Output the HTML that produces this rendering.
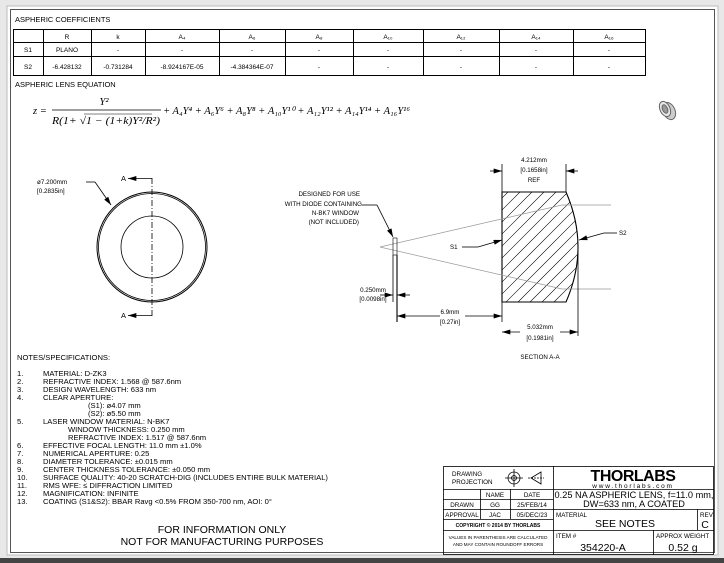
<!DOCTYPE html>
<html><head><meta charset="utf-8"><style>
html,body{margin:0;padding:0;background:#e6e6e6;}
svg{display:block;font-family:"Liberation Sans",sans-serif;}
</style></head><body>
<svg width="724" height="563" viewBox="0 0 724 563" xmlns="http://www.w3.org/2000/svg">
<defs>
<marker id="ar" viewBox="0 0 10 6" refX="10" refY="3" markerWidth="9" markerHeight="5" orient="auto-start-reverse" markerUnits="userSpaceOnUse"><path d="M0,0L10,3L0,6z" fill="#000"/></marker>
<clipPath id="lens"><path d="M502,192 L566,192 Q590,247 566,302 L502,302 Z"/></clipPath>
</defs>
<rect x="0" y="0" width="724" height="563" fill="#e8e8e8"/>
<rect x="7" y="6" width="711" height="549" fill="#fff" stroke="#bbb"/>
<rect x="10.5" y="9.5" width="704" height="543" fill="none" stroke="#555" stroke-width="1"/>
<rect x="0" y="558" width="724" height="5" fill="#444"/>

<text x="15" y="22" font-size="7.5">ASPHERIC COEFFICIENTS</text>
<g stroke="#000" stroke-width="1" fill="none">
<rect x="13.5" y="29.5" width="632" height="46"/>
<line x1="13" y1="42.5" x2="646" y2="42.5"/><line x1="13" y1="56.5" x2="646" y2="56.5"/>
<line x1="43.5" y1="29" x2="43.5" y2="76"/><line x1="91.5" y1="29" x2="91.5" y2="76"/>
<line x1="145.5" y1="29" x2="145.5" y2="76"/><line x1="219.5" y1="29" x2="219.5" y2="76"/>
<line x1="285.5" y1="29" x2="285.5" y2="76"/><line x1="353.5" y1="29" x2="353.5" y2="76"/>
<line x1="423.5" y1="29" x2="423.5" y2="76"/><line x1="499.5" y1="29" x2="499.5" y2="76"/>
<line x1="573.5" y1="29" x2="573.5" y2="76"/>
</g>
<g font-size="6.5" text-anchor="middle">
<text x="67" y="39">R</text><text x="118" y="39">k</text>
<text x="182" y="39">A₄</text><text x="252" y="39">A₆</text><text x="319" y="39">A₈</text>
<text x="388" y="39">A₁₀</text><text x="461" y="39">A₁₂</text><text x="536" y="39">A₁₄</text><text x="609" y="39">A₁₆</text>
<text x="28" y="52">S1</text><text x="67" y="52">PLANO</text>
<text x="118" y="52">-</text><text x="182" y="52">-</text><text x="252" y="52">-</text><text x="319" y="52">-</text><text x="388" y="52">-</text><text x="461" y="52">-</text><text x="536" y="52">-</text><text x="609" y="52">-</text>
<text x="28" y="69">S2</text><text x="67" y="69">-6.428132</text><text x="118" y="69">-0.731284</text>
<text x="182" y="69">-8.924167E-05</text><text x="252" y="69">-4.384364E-07</text>
<text x="319" y="69">-</text><text x="388" y="69">-</text><text x="461" y="69">-</text><text x="536" y="69">-</text><text x="609" y="69">-</text>
</g>
<text x="15" y="87" font-size="7.5">ASPHERIC LENS EQUATION</text>
<g font-family="'Liberation Serif',serif" font-size="10.5" font-style="italic">
<text x="33" y="114">z =</text>
<text x="104" y="105" text-anchor="middle">Y²</text>
<line x1="52" y1="110" x2="161" y2="110" stroke="#000" stroke-width="0.7"/>
<text x="52" y="124" textLength="108" lengthAdjust="spacingAndGlyphs">R(1+ √1 − (1+k)Y²/R²)</text>
<line x1="84" y1="114" x2="152" y2="114" stroke="#000" stroke-width="0.5"/>
<text x="163" y="114" textLength="247" lengthAdjust="spacingAndGlyphs">+ A₄Y⁴ + A₆Y⁶ + A₈Y⁸ + A₁₀Y¹⁰ + A₁₂Y¹² + A₁₄Y¹⁴ + A₁₆Y¹⁶</text>
</g>
<g stroke="#666" fill="#ccc" stroke-width="1">
<ellipse cx="669" cy="111" rx="6" ry="9" transform="rotate(-25 669 111)"/>
<ellipse cx="665" cy="109" rx="5" ry="8" fill="#e6e6e6" transform="rotate(-25 665 109)"/>
<ellipse cx="665" cy="109" rx="2.5" ry="4.5" fill="#999" transform="rotate(-25 665 109)"/>
</g>

<g fill="none" stroke="#000">
<circle cx="152" cy="247" r="55" stroke-width="1"/>
<circle cx="152" cy="247" r="53.5" stroke-width="0.8"/>
<circle cx="152" cy="247" r="31" stroke-width="0.8"/>
<line x1="152" y1="178" x2="152" y2="316" stroke-dasharray="6,2,1,2" stroke-width="0.8"/>
<line x1="152" y1="178.5" x2="128" y2="178.5" marker-end="url(#ar)" stroke-width="0.8"/>
<line x1="152" y1="315.5" x2="128" y2="315.5" marker-end="url(#ar)" stroke-width="0.8"/>
<polyline points="86,182 95,182" stroke-width="0.8"/>
</g>
<line x1="95" y1="182" x2="111" y2="205" stroke="#000" stroke-width="0.8" marker-end="url(#ar)"/>
<text x="121" y="181" font-size="7.5">A</text><text x="121" y="318" font-size="7.5">A</text>
<text x="37" y="184" font-size="6.3">ø7.200mm</text>
<text x="37" y="193" font-size="6.3">[0.2835in]</text>

<g clip-path="url(#lens)" stroke="#000" stroke-width="0.6">
<path d="M440,320 L580,180 M452,320 L592,180 M464,320 L604,180 M476,320 L616,180 M488,320 L628,180 M500,320 L640,180 M512,320 L652,180 M524,320 L664,180 M536,320 L676,180 M548,320 L688,180 M560,320 L700,180 M428,320 L568,180 M416,320 L556,180 M404,320 L544,180 M392,320 L532,180 M380,320 L520,180"/>
</g>
<path d="M502,192 L566,192 Q590,247 566,302 L502,302 Z" fill="none" stroke="#000" stroke-width="1.1"/>
<g stroke="#999" stroke-width="0.7" fill="none">
<polyline points="380,247 562,205 611,205"/>
<polyline points="380,247 562,289 611,289"/>
</g>
<rect x="393" y="238" width="4" height="17" fill="none" stroke="#000" stroke-width="0.6"/>
<g stroke="#000" stroke-width="0.8" fill="none">
<line x1="393" y1="255" x2="393" y2="302"/>
<line x1="397" y1="255" x2="397" y2="322" stroke-width="1.1"/>
<line x1="502" y1="302" x2="502" y2="322"/>
<line x1="578" y1="250" x2="578" y2="336"/>
<line x1="502" y1="192" x2="502" y2="164"/>
<line x1="566" y1="192" x2="566" y2="164"/>
<line x1="380" y1="295" x2="393" y2="295" marker-end="url(#ar)"/>
<line x1="410" y1="295" x2="397" y2="295" marker-end="url(#ar)"/>
<line x1="440" y1="316" x2="397" y2="316" marker-end="url(#ar)"/>
<line x1="465" y1="316" x2="502" y2="316" marker-end="url(#ar)"/>
<line x1="520" y1="332" x2="502" y2="332" marker-end="url(#ar)"/>
<line x1="560" y1="332" x2="578" y2="332" marker-end="url(#ar)"/>
<line x1="490" y1="171" x2="502" y2="171" marker-end="url(#ar)"/>
<line x1="578" y1="171" x2="566" y2="171" marker-end="url(#ar)"/>
<polyline points="362,205 377,205"/>
<line x1="377" y1="205" x2="393" y2="237" marker-end="url(#ar)"/>
<polyline points="462,247 478,247"/>
<line x1="478" y1="247" x2="502" y2="240" marker-end="url(#ar)"/>
<polyline points="617,233 604,233"/>
<line x1="604" y1="233" x2="579" y2="240" marker-end="url(#ar)"/>
</g>
<g font-size="6.2">
<text x="360" y="196" text-anchor="end">DESIGNED FOR USE</text>
<text x="362" y="206" text-anchor="end">WITH DIODE CONTAINING</text>
<text x="359" y="215" text-anchor="end">N-BK7 WINDOW</text>
<text x="359" y="224" text-anchor="end">(NOT INCLUDED)</text>
<text x="450" y="249">S1</text>
<text x="619" y="235">S2</text>
<text x="373" y="292" text-anchor="middle">0.250mm</text>
<text x="373" y="301" text-anchor="middle">[0.0098in]</text>
<text x="450" y="314" text-anchor="middle">6.9mm</text>
<text x="450" y="324" text-anchor="middle">[0.27in]</text>
<text x="540" y="329" text-anchor="middle">5.032mm</text>
<text x="540" y="340" text-anchor="middle">[0.1981in]</text>
<text x="534" y="162" text-anchor="middle">4.212mm</text>
<text x="534" y="172" text-anchor="middle">[0.1658in]</text>
<text x="534" y="182" text-anchor="middle">REF</text>
<text x="540" y="359" text-anchor="middle">SECTION A-A</text>
</g>

<g font-size="7.6">
<text x="17" y="360">NOTES/SPECIFICATIONS:</text>
<text x="17" y="376">1.</text><text x="43" y="376">MATERIAL: D-ZK3</text>
<text x="17" y="384">2.</text><text x="43" y="384">REFRACTIVE INDEX: 1.568 @ 587.6nm</text>
<text x="17" y="392">3.</text><text x="43" y="392">DESIGN WAVELENGTH: 633 nm</text>
<text x="17" y="400">4.</text><text x="43" y="400">CLEAR APERTURE:</text>
<text x="88" y="408">(S1): ø4.07 mm</text>
<text x="88" y="416">(S2): ø5.50 mm</text>
<text x="17" y="424">5.</text><text x="43" y="424">LASER WINDOW MATERIAL: N-BK7</text>
<text x="68" y="432">WINDOW THICKNESS: 0.250 mm</text>
<text x="68" y="440">REFRACTIVE INDEX: 1.517 @ 587.6nm</text>
<text x="17" y="448">6.</text><text x="43" y="448">EFFECTIVE FOCAL LENGTH: 11.0 mm ±1.0%</text>
<text x="17" y="456">7.</text><text x="43" y="456">NUMERICAL APERTURE: 0.25</text>
<text x="17" y="464">8.</text><text x="43" y="464">DIAMETER TOLERANCE: ±0.015 mm</text>
<text x="17" y="472">9.</text><text x="43" y="472">CENTER THICKNESS TOLERANCE: ±0.050 mm</text>
<text x="17" y="480">10.</text><text x="43" y="480">SURFACE QUALITY: 40-20 SCRATCH-DIG (INCLUDES ENTIRE BULK MATERIAL)</text>
<text x="17" y="488">11.</text><text x="43" y="488">RMS WFE: ≤ DIFFRACTION LIMITED</text>
<text x="17" y="496">12.</text><text x="43" y="496">MAGNIFICATION: INFINITE</text>
<text x="17" y="504">13.</text><text x="43" y="504">COATING (S1&amp;S2): BBAR Ravg &lt;0.5% FROM 350-700 nm, AOI: 0°</text>
</g>
<g font-size="10.5" text-anchor="middle">
<text x="222" y="533">FOR INFORMATION ONLY</text>
<text x="222" y="545">NOT FOR MANUFACTURING PURPOSES</text>
</g>

<g stroke="#000" stroke-width="0.8" fill="none">
<rect x="443.5" y="466.5" width="270" height="88"/>
<line x1="553.5" y1="466" x2="553.5" y2="555"/>
<line x1="443" y1="489.5" x2="714" y2="489.5"/>
<line x1="443" y1="499.5" x2="553" y2="499.5"/>
<line x1="443" y1="509.5" x2="714" y2="509.5"/>
<line x1="443" y1="519.5" x2="553" y2="519.5"/>
<line x1="443" y1="530.5" x2="714" y2="530.5"/>
<line x1="480.5" y1="489" x2="480.5" y2="519"/>
<line x1="510.5" y1="489" x2="510.5" y2="519"/>
<line x1="697.5" y1="509" x2="697.5" y2="530"/>
<line x1="653.5" y1="530" x2="653.5" y2="555"/>
<circle cx="514" cy="478" r="6"/><circle cx="514" cy="478" r="2.5"/>
<line x1="505" y1="478" x2="523" y2="478"/><line x1="514" y1="469" x2="514" y2="487"/>
<path d="M531,478 L541,472 L541,484 Z"/>
<line x1="528" y1="478" x2="544" y2="478" stroke-dasharray="2,1"/>
</g>
<g font-size="6.3">
<text x="452" y="476">DRAWING</text><text x="452" y="484">PROJECTION</text>
<text x="495" y="497" text-anchor="middle">NAME</text><text x="532" y="497" text-anchor="middle">DATE</text>
<text x="462" y="507" text-anchor="middle">DRAWN</text><text x="495" y="507" text-anchor="middle">GG</text><text x="532" y="507" text-anchor="middle">25/FEB/14</text>
<text x="462" y="517" text-anchor="middle">APPROVAL</text><text x="495" y="517" text-anchor="middle">JAC</text><text x="532" y="517" text-anchor="middle">05/DEC/23</text>
<text x="498" y="527" text-anchor="middle" font-size="5" font-weight="bold">COPYRIGHT © 2014 BY THORLABS</text>
<text x="498" y="539" text-anchor="middle" font-size="4.6">VALUES IN PARENTHESIS ARE CALCULATED</text>
<text x="498" y="546" text-anchor="middle" font-size="4.6">AND MAY CONTAIN ROUNDOFF ERRORS</text>
<text x="556" y="517">MATERIAL</text>
<text x="700" y="517">REV</text>
<text x="556" y="538">ITEM #</text>
<text x="656" y="538">APPROX WEIGHT</text>
</g>
<text x="633" y="481" text-anchor="middle" font-size="16" font-weight="bold" letter-spacing="-0.5">THORLABS</text>
<text x="633" y="488" text-anchor="middle" font-size="6.5" letter-spacing="1.8">www.thorlabs.com</text>
<g font-size="9.2" text-anchor="middle">
<text x="634" y="498">0.25 NA ASPHERIC LENS, f=11.0 mm,</text>
<text x="634" y="507">DW=633 nm, A COATED</text>
<text x="625" y="527" font-size="10.5">SEE NOTES</text>
<text x="705" y="528" font-size="10.5">C</text>
<text x="603" y="551" font-size="10.5">354220-A</text>
<text x="683" y="551" font-size="10.5">0.52 g</text>
</g>
</svg>
</body></html>
